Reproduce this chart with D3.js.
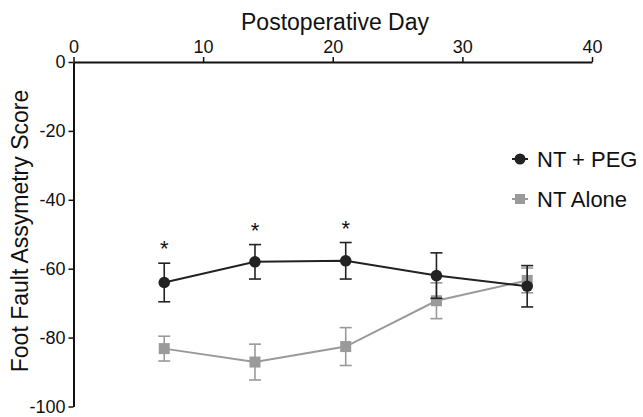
<!DOCTYPE html>
<html>
<head>
<meta charset="utf-8">
<script src="https://cdn.jsdelivr.net/npm/d3@7"></script>
<style>
  body { margin: 0; background: #fff; }
  svg { font-family: "Liberation Sans", Arial, sans-serif; }
</style>
</head>
<body>
<svg id="chart" width="643" height="417"></svg>
<script>
// values
var days = [7, 14, 21, 28, 35];
var pegMean = [-64.0, -58.0, -57.7, -62.0, -65.1];
var pegErr = [5.6, 5.0, 5.3, 6.6, 6.0];
var aloneMean = [-83.2, -87.1, -82.6, -69.3, -63.4];
var aloneErr = [3.6, 5.2, 5.5, 5.2, 3.6];
var starDays = [7, 14, 21];
var xTicks = [0, 10, 20, 30, 40];
var yTicks = [0, -20, -40, -60, -80, -100];

var svg = d3.select("#chart");

var x = d3.scaleLinear().domain([0, 40]).range([73.5, 592]),
    y = d3.scaleLinear().domain([-100, 0]).range([406.5, 62]);

var series = [
    { name: "NT + PEG", color: "#222", mean: pegMean, err: pegErr, shape: "circle" },
    { name: "NT Alone", color: "#9a9a9a", mean: aloneMean, err: aloneErr, shape: "square" }
];

var plain = function(v) { return String(v); };   // keep hyphen minus like the original

// axes
var xAxis = svg.append("g")
    .attr("transform", "translate(0," + y(0) + ")")
    .call(d3.axisTop(x).tickValues(xTicks).tickFormat(plain).tickSize(5).tickSizeOuter(0).tickPadding(4));
var yAxis = svg.append("g")
    .attr("transform", "translate(" + x(0) + ",0)")
    .call(d3.axisLeft(y).tickValues(yTicks).tickFormat(plain).tickSize(5).tickSizeOuter(0).tickPadding(3));

[xAxis, yAxis].forEach(function(g) {
    g.select(".domain").attr("stroke", "#111").attr("stroke-width", 2);
    g.selectAll(".tick line").attr("stroke", "#111").attr("stroke-width", 1.5);
    g.selectAll(".tick text").attr("fill", "#111").style("font-size", "18px");
});

svg.append("text")
    .attr("x", 335).attr("y", 30)
    .attr("text-anchor", "middle")
    .style("font-size", "23px").attr("fill", "#111")
    .text("Postoperative Day");

svg.append("text")
    .attr("transform", "translate(28,231) rotate(-90)")
    .attr("text-anchor", "middle")
    .style("font-size", "23px").attr("fill", "#111")
    .text("Foot Fault Assymetry Score");

// gray series first so black sits on top
series.slice().reverse().forEach(function(s) {
    var pts = days.map(function(d, i) { return { day: d, mean: s.mean[i], err: s.err[i] }; });
    var g = svg.append("g");

    g.append("path")
        .datum(pts)
        .attr("fill", "none")
        .attr("stroke", s.color)
        .attr("stroke-width", 2)
        .attr("d", d3.line().x(function(d) { return x(d.day); }).y(function(d) { return y(d.mean); }));

    var bars = g.selectAll(".err").data(pts).enter().append("g")
        .attr("stroke", s.color).attr("stroke-width", 1.6);
    bars.append("line")
        .attr("x1", function(d) { return x(d.day); }).attr("x2", function(d) { return x(d.day); })
        .attr("y1", function(d) { return y(d.mean + d.err); }).attr("y2", function(d) { return y(d.mean - d.err); });
    [1, -1].forEach(function(sign) {
        bars.append("line")
            .attr("x1", function(d) { return x(d.day) - 6; }).attr("x2", function(d) { return x(d.day) + 6; })
            .attr("y1", function(d) { return y(d.mean + sign * d.err); })
            .attr("y2", function(d) { return y(d.mean + sign * d.err); });
    });

    if (s.shape === "circle") {
        g.selectAll("circle").data(pts).enter().append("circle")
            .attr("cx", function(d) { return x(d.day); })
            .attr("cy", function(d) { return y(d.mean); })
            .attr("r", 5.8).attr("fill", s.color);
    } else {
        g.selectAll("rect").data(pts).enter().append("rect")
            .attr("x", function(d) { return x(d.day) - 5.5; })
            .attr("y", function(d) { return y(d.mean) - 5.5; })
            .attr("width", 11).attr("height", 11).attr("fill", s.color);
    }
});

// significance stars above the NT + PEG bars
svg.selectAll(".star").data(starDays).enter().append("text")
    .attr("x", function(d) { return x(d); })
    .attr("y", function(d) { var i = days.indexOf(d); return y(pegMean[i] + pegErr[i]) - 7; })
    .attr("text-anchor", "middle")
    .style("font-size", "22px").attr("fill", "#111")
    .text("*");

// legend
var legend = svg.selectAll(".legend").data(series).enter().append("g")
    .attr("transform", function(d, i) { return "translate(520," + (159 + i * 40) + ")"; });
legend.append("line")
    .attr("x1", -8).attr("x2", 8)
    .attr("stroke", function(d) { return d.color; }).attr("stroke-width", 2);
legend.each(function(d) {
    var el = d3.select(this);
    if (d.shape === "circle") {
        el.append("circle").attr("r", 5.5).attr("fill", d.color);
    } else {
        el.append("rect").attr("x", -5).attr("y", -5).attr("width", 10).attr("height", 10).attr("fill", d.color);
    }
});
legend.append("text")
    .attr("x", 17).attr("y", 8)
    .style("font-size", "22px").attr("fill", "#111")
    .text(function(d) { return d.name; });
</script>
</body>
</html>
